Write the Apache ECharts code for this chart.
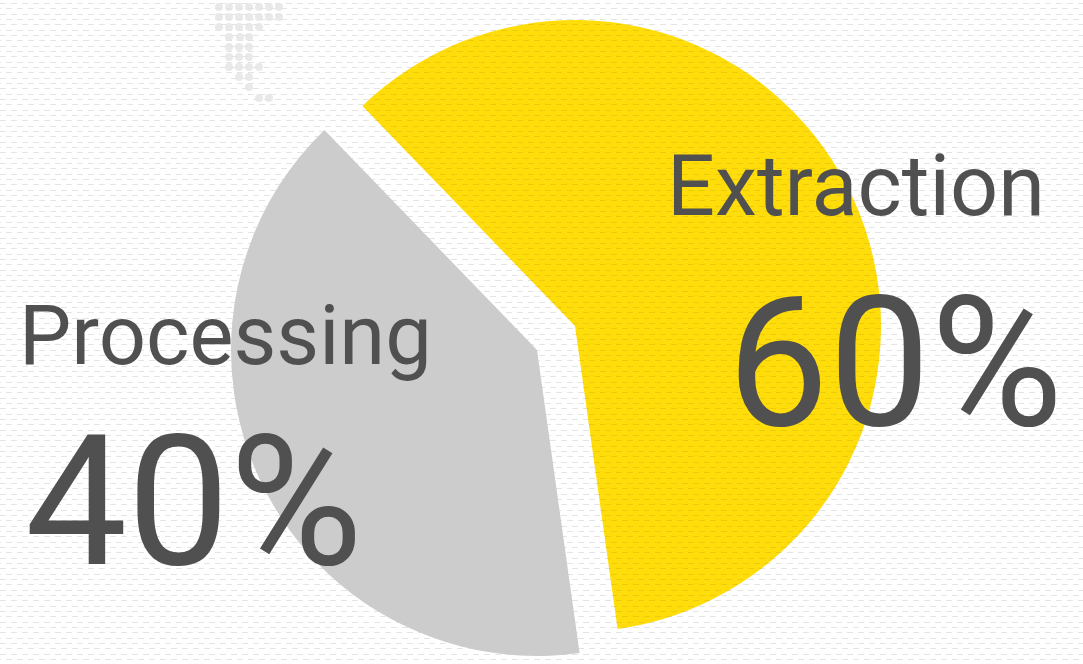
<!DOCTYPE html>
<html><head><meta charset="utf-8">
<style>html,body{margin:0;padding:0;background:#fff}#c{width:1083px;height:664px}</style>
<script src="https://cdn.jsdelivr.net/npm/echarts@6/dist/echarts.min.js"></script>
</head><body><div id="c"></div>
<script>
const categories = ['Extraction', 'Processing'];
const shares = [60, 40];
const dotRows = [
  [7, [219,229,239,249,259,269,279]],
  [17, [219,229,239,249,259,269,279]],
  [27, [219,229,239,249,259]],
  [37, [229,240,249]],
  [47, [229,239,249]],
  [57, [229,239,249]],
  [67, [229,239,249,259]],
  [77, [239,249]],
  [87, [249]],
  [98, [259,269]]
];
const dots = dotRows.flatMap(([y, xs]) => xs.map(x => [x, y]));

function texture(base, dash) {
  const cv = document.createElement('canvas');
  cv.width = 22; cv.height = 32;
  const g = cv.getContext('2d');
  g.fillStyle = base; g.fillRect(0, 0, 22, 32);
  g.fillStyle = dash;
  [3, 8, 14, 19, 24, 30].forEach((y, i) => {
    const off = i % 2 ? 6 : 0;
    [0, 11, 22].forEach(x => {
      g.fillRect(x + off - 11, y, 6, 1);
      g.fillRect(x + off, y, 6, 1);
    });
  });
  return { image: cv, repeat: 'repeat' };
}
const paper = texture('#ffffff', '#e4e4e4');
const yellow = texture('#ffdd0b', '#ebcb0c');

const ink = '#505050';
function richFor(nameSize, valSize, nameH, valH, indent) {
  return {
    name: { fontFamily: 'Roboto', fontWeight: 400, fontSize: nameSize, lineHeight: nameH, color: ink },
    val: { fontFamily: 'Roboto', fontWeight: 400, fontSize: valSize, lineHeight: valH, color: ink, padding: [0, 0, 0, indent] }
  };
}
const fmt = '{name|{b}}\n{val|{d}%}';

const chart = echarts.init(document.getElementById('c'), null, { renderer: 'canvas' });
chart.setOption({
  animation: false,
  backgroundColor: paper,
  grid: { left: 0, right: 0, top: 0, bottom: 0 },
  xAxis: { type: 'value', min: 0, max: 1083, show: false },
  yAxis: { type: 'value', min: 0, max: 664, inverse: true, show: false },
  series: [
    { type: 'scatter', data: dots, symbolSize: 8, silent: true, z: 1,
      itemStyle: { color: '#e4e4e4' } },
    { type: 'pie', name: categories[0], z: 2, radius: 306, center: [575, 326], startAngle: 134,
      clockwise: true, silent: true, avoidLabelOverlap: false,
      data: [
        { name: categories[0], value: shares[0], itemStyle: { color: yellow },
          label: { show: true, position: 'inside', overflow: 'none', formatter: fmt, rich: richFor(84.5, 181, 100, 272, 60) },
          labelLine: { show: false } },
        { name: categories[1], value: shares[1], itemStyle: { color: 'rgba(0,0,0,0)' },
          label: { show: false }, labelLine: { show: false } }
      ],
      labelLayout: { x: 667, y: 144, align: 'left', verticalAlign: 'top' }
    },
    { type: 'pie', name: categories[1], z: 2, radius: 306, center: [537, 350], startAngle: 134,
      clockwise: true, silent: true, avoidLabelOverlap: false,
      data: [
        { name: categories[0], value: shares[0], itemStyle: { color: 'rgba(0,0,0,0)' },
          label: { show: false }, labelLine: { show: false } },
        { name: categories[1], value: shares[1], itemStyle: { color: '#cccccc' },
          label: { show: true, position: 'inside', overflow: 'none', formatter: fmt, rich: richFor(83, 182, 100, 250, 6) },
          labelLine: { show: false } }
      ],
      labelLayout: { x: 19, y: 293, align: 'left', verticalAlign: 'top' }
    }
  ]
});
</script></body></html>
